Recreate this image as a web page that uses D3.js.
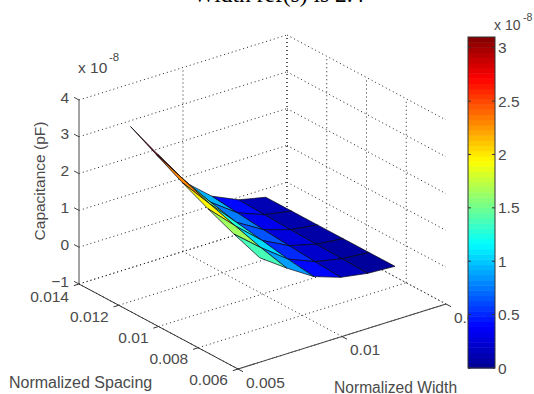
<!DOCTYPE html>
<html><head><meta charset="utf-8">
<script src="https://cdn.jsdelivr.net/npm/d3@7"></script>
<style>html,body{margin:0;padding:0;background:#fff}svg{display:block}text{font-family:"Liberation Sans",Arial,sans-serif;fill:#4a4a4a}</style>
</head><body><svg id="c" width="534" height="394"></svg>
<script>
const titleText = "Width ref(s) is 2.4";
const zLabel = "Capacitance (pF)", spacingLabel = "Normalized Spacing", widthLabel = "Normalized Width";
const spacingTicks = [0.014, 0.012, 0.01, 0.008, 0.006];
const widthTicks = [0.005, 0.01, 0.015];
const zTicks = [4, 3, 2, 1, 0, -1];
const cbarTicks = [3, 2.5, 2, 1.5, 1, 0.5, 0];
const widths = [0.007, 0.0083, 0.0096, 0.0109, 0.0122, 0.0135];
const spacings = [0.007, 0.0083, 0.0096, 0.0109, 0.0122, 0.0135];
// capacitance ×1e-8, rows = spacings, columns = widths
const capRow0 = [1.38, 0.87, 0.41, 0.16, 0.04, 0];
const capRow1 = [1.65, 1.05, 0.51, 0.21, 0.06, 0];
const capRow2 = [1.96, 1.27, 0.64, 0.27, 0.08, 0];
const capRow3 = [2.30, 1.50, 0.76, 0.33, 0.10, 0];
const capRow4 = [2.68, 1.78, 0.93, 0.41, 0.13, 0];
const capRow5 = [3.07, 2.09, 1.10, 0.49, 0.16, 0];
const cap = [capRow0, capRow1, capRow2, capRow3, capRow4, capRow5];
const cMax = 3.1;

const svg = d3.select("#c");
// Oblique projection: each data axis contributes linearly to a screen x and y offset
const sx = d3.scaleLinear().domain([0.006, 0.014]).range([0, -159]);
const sy = d3.scaleLinear().domain([0.006, 0.014]).range([0, -85]);
const wx = d3.scaleLinear().domain([0.005, 0.015]).range([0, 208]);
const wy = d3.scaleLinear().domain([0.005, 0.015]).range([0, -65]);
const zy = d3.scaleLinear().domain([-1, 4]).range([0, -184]);
const ox = 238, oy = 369;
const P = (s, w, z) => [ox + sx(s) + wx(w), oy + sy(s) + wy(w) + zy(z)];
const [sMin, sMax] = [0.006, 0.014], [wMin, wMax] = [0.005, 0.015], [zMin, zMax] = [-1, 4];

const jet = d3.scaleLinear()
  .domain([0, 0.125, 0.375, 0.625, 0.875, 1])
  .range(["#00008f", "#0000ff", "#00ffff", "#ffff00", "#ff0000", "#800000"])
  .clamp(true);
const cNorm = d3.scaleLinear().domain([0, cMax]).range([0, 1]);

function seg(a, b) {
  return svg.append("line").attr("x1", a[0]).attr("y1", a[1]).attr("x2", b[0]).attr("y2", b[1]);
}
function grid(a, b) {
  seg(a, b).attr("stroke", "#222").attr("stroke-width", 1).attr("stroke-dasharray", "1 3");
}
// Grid on walls
zTicks.forEach(z => {
  grid(P(sMax, wMin, z), P(sMax, wMax, z));
  grid(P(sMax, wMax, z), P(sMin, wMax, z));
});
spacingTicks.forEach(s => {
  grid(P(s, wMin, zMin), P(s, wMax, zMin));
  if (s !== sMin) grid(P(s, wMax, zMin), P(s, wMax, zMax));
});
widthTicks.forEach(w => {
  grid(P(sMin, w, zMin), P(sMax, w, zMin));
  if (w !== wMin) grid(P(sMax, w, zMin), P(sMax, w, zMax));
});
// Axes
seg(P(sMax, wMin, zMin), P(sMax, wMin, zMax)).attr("stroke", "#666").attr("stroke-width", 1.2);
seg(P(sMax, wMin, zMin), P(sMin, wMin, zMin)).attr("stroke", "#333").attr("stroke-width", 1);
seg(P(sMin, wMin, zMin), P(sMin, wMax, zMin)).attr("stroke", "#444").attr("stroke-width", 1.1);
zTicks.forEach(z => seg(P(sMax, wMin, z), P(sMax + 0.00025, wMin, z)).attr("stroke", "#444"));
spacingTicks.forEach(s => seg(P(s, wMin, zMin), P(s, wMin - 0.00025, zMin)).attr("stroke", "#333"));
widthTicks.forEach(w => seg(P(sMin, w, zMin), P(sMin - 0.00025, w, zMin)).attr("stroke", "#333"));

// Surface: far facets first
const facets = [];
for (let i = 0; i < spacings.length - 1; i++) for (let j = 0; j < widths.length - 1; j++) {
  facets.push({
    depth: i + j,
    color: jet(cNorm(i === spacings.length - 2 && j === 0 ? cap[i + 1][j] : cap[i][j])),
    pts: [[i, j], [i + 1, j], [i + 1, j + 1], [i, j + 1]].map(([a, b]) => P(spacings[a], widths[b], cap[a][b]))
  });
}
facets.sort((a, b) => b.depth - a.depth);
svg.selectAll("polygon.f").data(facets).join("polygon").attr("class", "f")
  .attr("points", d => d.pts.map(p => p.join(",")).join(" "))
  .attr("fill", d => d.color).attr("stroke", "#050515").attr("stroke-width", 0.7).attr("stroke-linejoin", "round");

// Tick labels
const FS = 15.5;
function label(x, y, t, anchor, size) {
  return svg.append("text").attr("x", x).attr("y", y).attr("text-anchor", anchor || "start")
    .attr("dominant-baseline", "central").attr("font-size", size || FS).text(t);
}
const zScale = d3.scaleLinear().domain([-1, 4]).range([281, 97]);
zTicks.forEach(z => label(69, zScale(z), d3.format("d")(z), "end"));
const fmt = d => String(d);
const spPos = d3.scaleLinear().domain([0.014, 0.006]).range([69, 228]);
const spPosY = d3.scaleLinear().domain([0.014, 0.006]).range([296, 379]);
spacingTicks.forEach(s => label(spPos(s), spPosY(s), fmt(s), "end"));
const wdPos = d3.scaleLinear().domain([0.005, 0.015]).range([246, 454]);
const wdPosY = d3.scaleLinear().domain([0.005, 0.015]).range([382, 317]);
widthTicks.forEach(w => label(wdPos(w), wdPosY(w), fmt(w), "start"));
label(78, 67, "x 10"); label(109, 57, "-8", "start", 11.5);

// Axis titles
label(9, 382, spacingLabel, "start", 16);
label(334, 387, widthLabel, "start", 15.6);
svg.append("text").attr("transform", "translate(39,181) rotate(-90)").attr("text-anchor", "middle")
  .attr("dominant-baseline", "central").attr("font-size", 15.5).text(zLabel);
svg.append("text").attr("x", 193).attr("y", 2).attr("text-anchor", "start")
  .style("font-family", '"Liberation Serif",serif').style("fill", "#000").attr("font-size", 23.5).text(titleText);

// Colour bar
const cbY = d3.scaleLinear().domain([0, cMax]).range([368, 37]);
const cbSteps = d3.range(64);
svg.selectAll("rect.b").data(cbSteps).join("rect").attr("class", "b")
  .attr("x", 468).attr("width", 27)
  .attr("y", d => cbY((d + 1) / 64 * cMax)).attr("height", d => cbY(d / 64 * cMax) - cbY((d + 1) / 64 * cMax) + 0.5)
  .attr("fill", d => jet((d + 0.5) / 64));
svg.append("rect").attr("x", 468).attr("y", 37).attr("width", 27).attr("height", 331)
  .attr("fill", "none").attr("stroke", "#333");
cbarTicks.forEach(v => {
  seg([468, cbY(v)], [471, cbY(v)]).attr("stroke", "#333");
  seg([492, cbY(v)], [495, cbY(v)]).attr("stroke", "#333");
  label(498, cbY(v), String(v), "start", 15.5);
});
label(494, 25, "x 10", "start", 14); label(523, 17, "-8", "start", 10.5);
</script></body></html>
